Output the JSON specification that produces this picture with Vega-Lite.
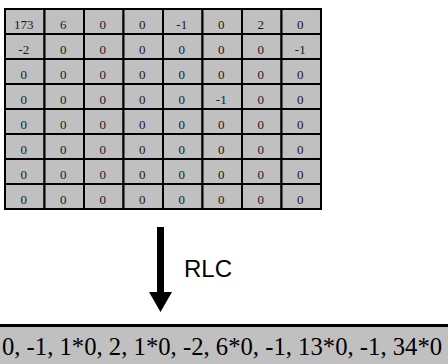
{
  "$schema": "https://vega.github.io/schema/vega-lite/v6.json",
  "padding": {"left": 0, "top": 7, "right": 0, "bottom": 0},
  "background": "white",
  "bounds": "flush",
  "spacing": 0,
  "config": {"view": {"stroke": null}},
  "vconcat": [
    {
      "width": 326,
      "height": 204,
      "data": {"values": [
        {"r":1,"c":1,"v":173},{"r":1,"c":2,"v":6},{"r":1,"c":3,"v":0},{"r":1,"c":4,"v":0},{"r":1,"c":5,"v":-1},{"r":1,"c":6,"v":0},{"r":1,"c":7,"v":2},{"r":1,"c":8,"v":0},
        {"r":2,"c":1,"v":-2},{"r":2,"c":2,"v":0},{"r":2,"c":3,"v":0},{"r":2,"c":4,"v":0},{"r":2,"c":5,"v":0},{"r":2,"c":6,"v":0},{"r":2,"c":7,"v":0},{"r":2,"c":8,"v":-1},
        {"r":3,"c":1,"v":0},{"r":3,"c":2,"v":0},{"r":3,"c":3,"v":0},{"r":3,"c":4,"v":0},{"r":3,"c":5,"v":0},{"r":3,"c":6,"v":0},{"r":3,"c":7,"v":0},{"r":3,"c":8,"v":0},
        {"r":4,"c":1,"v":0},{"r":4,"c":2,"v":0},{"r":4,"c":3,"v":0},{"r":4,"c":4,"v":0},{"r":4,"c":5,"v":0},{"r":4,"c":6,"v":-1},{"r":4,"c":7,"v":0},{"r":4,"c":8,"v":0},
        {"r":5,"c":1,"v":0},{"r":5,"c":2,"v":0},{"r":5,"c":3,"v":0},{"r":5,"c":4,"v":0},{"r":5,"c":5,"v":0},{"r":5,"c":6,"v":0},{"r":5,"c":7,"v":0},{"r":5,"c":8,"v":0},
        {"r":6,"c":1,"v":0},{"r":6,"c":2,"v":0},{"r":6,"c":3,"v":0},{"r":6,"c":4,"v":0},{"r":6,"c":5,"v":0},{"r":6,"c":6,"v":0},{"r":6,"c":7,"v":0},{"r":6,"c":8,"v":0},
        {"r":7,"c":1,"v":0},{"r":7,"c":2,"v":0},{"r":7,"c":3,"v":0},{"r":7,"c":4,"v":0},{"r":7,"c":5,"v":0},{"r":7,"c":6,"v":0},{"r":7,"c":7,"v":0},{"r":7,"c":8,"v":0},
        {"r":8,"c":1,"v":0},{"r":8,"c":2,"v":0},{"r":8,"c":3,"v":0},{"r":8,"c":4,"v":0},{"r":8,"c":5,"v":0},{"r":8,"c":6,"v":0},{"r":8,"c":7,"v":0},{"r":8,"c":8,"v":0}
      ]},
      "encoding": {
        "x": {"field": "c", "type": "ordinal", "scale": {"paddingInner": 0, "paddingOuter": 0.1266}, "axis": null},
        "y": {"field": "r", "type": "ordinal", "scale": {"paddingInner": 0, "paddingOuter": 0.08}, "axis": null}
      },
      "layer": [
        {"mark": {"type": "rect", "fill": "#c0c0c0", "stroke": "black", "strokeWidth": 2}},
        {"mark": {"type": "text", "font": "Liberation Serif", "fontSize": 13, "fill": "#1a1a1a", "dx": -1, "dy": 7.5, "baseline": "alphabetic"},
         "encoding": {"text": {"field": "v", "type": "nominal"}}}
      ]
    },
    {
      "width": 321,
      "height": 113,
      "data": {"values": [{"step": "RLC"}]},
      "encoding": {
        "x": {"field": "step", "type": "nominal", "scale": {"type": "band", "paddingInner": 0, "paddingOuter": 0}, "axis": null},
        "y": {"field": "step", "type": "nominal", "scale": {"type": "band", "paddingInner": 0, "paddingOuter": 0}, "axis": null}
      },
      "layer": [
        {"mark": {"type": "point", "shape": "M-0.0778,-0.9L0.0778,-0.9L0.0778,0.5444L0.2556,0.5444L0,0.9889L-0.2556,0.5444L-0.0778,0.5444Z", "size": 8100, "filled": true, "fill": "black", "opacity": 1}},
        {"mark": {"type": "text", "font": "Liberation Sans", "fontSize": 24, "fill": "black", "align": "left", "baseline": "alphabetic", "dx": 23.5, "dy": 9.5},
         "encoding": {"text": {"field": "step", "type": "nominal"}}}
      ]
    },
    {
      "width": 448,
      "height": 40,
      "data": {"values": [{"code": "0, -1, 1*0, 2, 1*0, -2, 6*0, -1, 13*0, -1, 34*0"}]},
      "encoding": {
        "y": {"field": "code", "type": "nominal", "scale": {"type": "band", "paddingInner": 0, "paddingOuter": 0}, "axis": null}
      },
      "layer": [
        {"mark": {"type": "rect", "fill": "#c0c0c0"},
         "encoding": {"x": {"field": "code", "type": "nominal", "scale": {"type": "band", "paddingInner": 0, "paddingOuter": 0}, "axis": null}}},
        {"mark": {"type": "rule", "stroke": "black", "strokeWidth": 6, "clip": true},
         "encoding": {"y": {"field": "code", "type": "nominal", "bandPosition": 0, "axis": null}}},
        {"mark": {"type": "text", "font": "Liberation Serif", "fontSize": 24.7, "fill": "black", "baseline": "alphabetic", "dx": -2, "dy": 11},
         "encoding": {"x": {"field": "code", "type": "nominal", "axis": null}, "text": {"field": "code", "type": "nominal"}}}
      ]
    }
  ]
}
